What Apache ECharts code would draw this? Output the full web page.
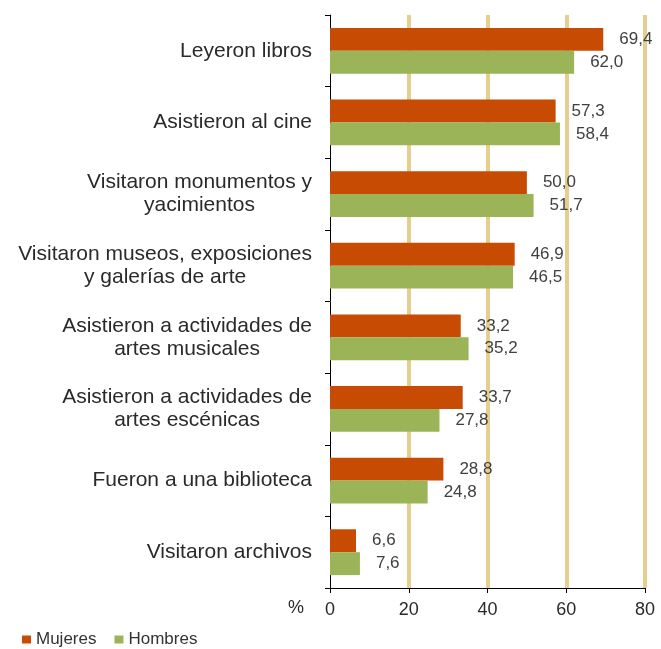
<!DOCTYPE html>
<html>
<head>
<meta charset="utf-8">
<script src="https://cdn.jsdelivr.net/npm/echarts@6/dist/echarts.min.js"></script>
<style>html,body{margin:0;padding:0;background:#fff;}#c{width:661px;height:649px;}</style>
</head>
<body>
<div id="c"></div>
<script>
var categories = [
  "Leyeron libros",
  "Asistieron al cine",
  "Visitaron monumentos y\nyacimientos",
  "Visitaron museos, exposiciones\ny galerías de arte",
  "Asistieron a actividades de\nartes musicales",
  "Asistieron a actividades de\nartes escénicas",
  "Fueron a una biblioteca",
  "Visitaron archivos"
];
var mujeres = [69.4, 57.3, 50.0, 46.9, 33.2, 33.7, 28.8, 6.6];
var hombres = [62.0, 58.4, 51.7, 46.5, 35.2, 27.8, 24.8, 7.6];
var xTicks = [0, 20, 40, 60, 80];

var chart = echarts.init(document.getElementById('c'));
function fmt(p) { return p.value.toFixed(1).replace('.', ','); }
var font = 'Liberation Sans, Arial, sans-serif';
chart.setOption({
  animation: false,
  textStyle: { fontFamily: font },
  grid: { left: 330, right: 16, top: 15, bottom: 61, containLabel: false },
  legend: {
    left: 17, top: 626, itemWidth: 9, itemHeight: 8, itemGap: 18,
    icon: 'rect',
    textStyle: { fontSize: 17, color: '#333', fontFamily: font },
    data: ['Mujeres', 'Hombres']
  },
  xAxis: {
    type: 'value', min: xTicks[0], max: xTicks[xTicks.length - 1], interval: 20,
    axisLine: { show: true, lineStyle: { color: '#000', width: 1 } },
    axisTick: { show: true, length: 5, lineStyle: { color: '#000' } },
    axisLabel: { fontSize: 18, color: '#2a2a2a', margin: 13, fontFamily: font },
    splitLine: { show: true, showMinLine: false, lineStyle: { color: '#E6CF8E', width: 4 } }
  },
  yAxis: {
    type: 'category', inverse: true, data: categories,
    axisLine: { show: true, lineStyle: { color: '#000', width: 1 } },
    axisTick: { show: true, length: 5, lineStyle: { color: '#000' } },
    axisLabel: {
      margin: 18, align: 'right', fontSize: 21, color: '#2a2a2a', fontFamily: font, lineHeight: 23,
      formatter: function (v) {
        return v.split('\n').map(function (l) { return '{a|' + l + '}'; }).join('\n');
      },
      rich: { a: { fontSize: 21, color: '#2a2a2a', align: 'center', lineHeight: 23, fontFamily: font } }
    },
    splitLine: { show: false }
  },
  graphic: [{
    type: 'text', left: 288, top: 599,
    style: { text: '%', fontSize: 18, fill: '#2a2a2a', fontFamily: font }
  }],
  series: [
    {
      name: 'Mujeres', type: 'bar', data: mujeres, barGap: '0%', barCategoryGap: '36%',
      itemStyle: { color: '#C84B04' },
      label: { show: true, position: 'right', distance: 16, formatter: fmt, fontSize: 17, color: '#404040', fontFamily: font }
    },
    {
      name: 'Hombres', type: 'bar', data: hombres, barGap: '0%', barCategoryGap: '36%',
      itemStyle: { color: '#9BB458' },
      label: { show: true, position: 'right', distance: 16, formatter: fmt, fontSize: 17, color: '#404040', fontFamily: font }
    }
  ]
});
</script>
</body>
</html>
